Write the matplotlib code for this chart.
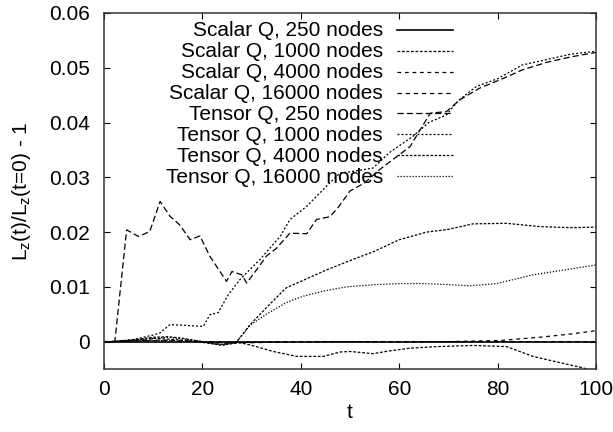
import matplotlib
matplotlib.use("Agg")
import matplotlib.pyplot as plt

plt.rcParams['font.family'] = ['Liberation Sans', 'DejaVu Sans']
plt.rcParams['mathtext.default'] = 'regular'

labels = ["Scalar Q, 250 nodes", "Scalar Q, 1000 nodes", "Scalar Q, 4000 nodes",
          "Scalar Q, 16000 nodes", "Tensor Q, 250 nodes", "Tensor Q, 1000 nodes",
          "Tensor Q, 4000 nodes", "Tensor Q, 16000 nodes"]

s250_t = [0, 100]
s250_y = [0, 0]

s1000_t = [0, 2, 6, 10, 14, 18, 22, 25, 27.6, 29.7, 34.4, 39.2, 44.6, 48, 50, 54.7, 58, 62.2, 68, 75, 81.8, 87.2, 92, 97.4, 100]
s1000_y = [0, 0, 0.0003, 0.0006, 0.0004, 0.0001, -0.0004, -0.0005, -0.0002, -0.0006, -0.0018, -0.0027, -0.0027, -0.0019, -0.0018, -0.0022, -0.0017, -0.0012, -0.0009, -0.0007, -0.0009, -0.0027, -0.0037, -0.0048, -0.0055]

s4000_t = [0, 5, 10, 15, 20, 25, 30, 40, 50, 60, 70, 75, 80.5, 88.6, 95, 100]
s4000_y = [0, 0.0001, 0.0003, 0.0002, 0, -0.0003, -0.0001, 0, 0, 0, 0, 0.0001, 0.0002, 0.0008, 0.0014, 0.002]

s16000_t = [0, 10, 20, 30, 40, 60, 80, 100]
s16000_y = [0, 0.0002, 0, -0.0002, 0, 0, 0, 0]

t250_t = [0, 2.2, 4.6, 7, 9.3, 11.4, 13.4, 15.4, 17.5, 19.5, 21.5, 24.9, 26, 28, 29, 31, 33, 35, 37.8, 41.2, 43.2, 45.9, 47.6, 50, 53, 56, 62.2, 66.3, 69.6, 72.4, 76.4, 81, 85, 90, 95, 100]
t250_y = [0, 0, 0.0204, 0.0192, 0.0201, 0.0256, 0.0229, 0.0213, 0.0186, 0.0193, 0.0156, 0.011, 0.0128, 0.0122, 0.0107, 0.0131, 0.0156, 0.017, 0.0198, 0.0197, 0.0223, 0.0228, 0.0245, 0.0275, 0.029, 0.0314, 0.0356, 0.0417, 0.042, 0.0442, 0.0463, 0.048, 0.0496, 0.051, 0.052, 0.0528]

t1000_t = [0, 2, 6, 10, 11.4, 13.4, 16, 19.5, 20.2, 21.5, 23.2, 25.3, 27.6, 31.7, 35.8, 37.8, 41.2, 45.9, 48, 50, 54.7, 58, 62.8, 66, 69.6, 72, 75.7, 80, 85, 90, 95, 100]
t1000_y = [0, 0, 0.0004, 0.0012, 0.0016, 0.0031, 0.003, 0.0028, 0.0028, 0.0049, 0.0053, 0.0086, 0.0113, 0.015, 0.0192, 0.0223, 0.0247, 0.029, 0.0308, 0.031, 0.0317, 0.0345, 0.0375, 0.040, 0.0414, 0.044, 0.0466, 0.048, 0.0505, 0.0515, 0.0525, 0.053]

t4000_t = [0, 2, 6, 10, 13, 16, 20, 24, 27, 29.7, 33, 37, 40.5, 45, 50, 55, 60, 65.6, 70, 75, 81.8, 88.6, 95, 100]
t4000_y = [0, 0, 0.0003, 0.0008, 0.0009, 0.0006, 0, -0.0007, 0, 0.0031, 0.0062, 0.0098, 0.0112, 0.013, 0.0148, 0.0165, 0.0186, 0.020, 0.0205, 0.0215, 0.0216, 0.021, 0.0208, 0.0209]

t16000_t = [0, 2, 6, 10, 13, 16, 20, 24, 27, 29.7, 33, 37, 40.5, 45, 49.3, 55, 60, 65, 70, 74.4, 79.8, 87.2, 93, 100]
t16000_y = [0, 0, 0.0002, 0.0006, 0.0008, 0.0005, 0, -0.0006, 0, 0.003, 0.005, 0.0071, 0.0083, 0.0093, 0.0100, 0.0104, 0.0106, 0.0106, 0.0104, 0.0102, 0.0106, 0.0122, 0.013, 0.014]

xticks = [0, 20, 40, 60, 80, 100]
yticks = [0, 0.01, 0.02, 0.03, 0.04, 0.05, 0.06]
ytick_labels = ["0", "0.01", "0.02", "0.03", "0.04", "0.05", "0.06"]

series = [(s250_t, s250_y), (s1000_t, s1000_y), (s4000_t, s4000_y), (s16000_t, s16000_y),
          (t250_t, t250_y), (t1000_t, t1000_y), (t4000_t, t4000_y), (t16000_t, t16000_y)]
styles = ['-', (0, (2.2, 1.4)), (0, (3, 3)), (0, (3.5, 3)),
          (0, (5, 2.5)), (0, (1.6, 1.6)), (0, (2, 1.3)), (0, (1, 1.4))]
widths = [1.2, 0.9, 0.9, 0.9, 0.9, 0.9, 0.9, 0.9]

fig = plt.figure(figsize=(6.13, 4.32), dpi=100)
ax = fig.add_axes([104/613, 1 - 369/432, 492/613, 356/432])

for (tt, yy), ls, lw in zip(series, styles, widths):
    ax.plot(tt, yy, color='black', linestyle=ls, linewidth=lw)

ax.set_xlim(0, 100)
ax.set_ylim(-0.005, 0.06)
ax.set_xticks(xticks)
ax.set_yticks(yticks)
ax.set_yticklabels(ytick_labels)
ax.tick_params(direction='in', length=4.5, width=0.8, top=True, right=True, labelsize=15)
ax.tick_params(axis='y', pad=10)
ax.tick_params(axis='x', pad=8)
for sp in ax.spines.values():
    sp.set_linewidth(1.1)
    sp.set_color('#333333')

ax.set_xlabel('t', fontsize=15)
ax.set_ylabel('L$_z$(t)/L$_z$(t=0) - 1', fontsize=15)
ax.xaxis.set_label_coords(0.5, -0.095)
ax.xaxis.label.set_va('top')
ax.yaxis.set_label_coords(-0.144, 0.5)

# legend, gnuplot style: right-aligned text, sample line to the right
row0 = (369 - 29.8) / 356
step = 20.9 / 356
x_text = (383 - 104) / 492
x0 = (397 - 104) / 492
x1 = (453 - 104) / 492
base_off = 6.7 / 356
for i, (lab, ls, lw) in enumerate(zip(labels, styles, widths)):
    yy = row0 - i * step
    ax.text(x_text, yy - base_off, lab, transform=ax.transAxes, ha='right', va='baseline', fontsize=15)
    ax.plot([x0, x1], [yy, yy], transform=ax.transAxes, color='black', linestyle=ls, linewidth=lw)

fig.savefig('out.png', dpi=100)
